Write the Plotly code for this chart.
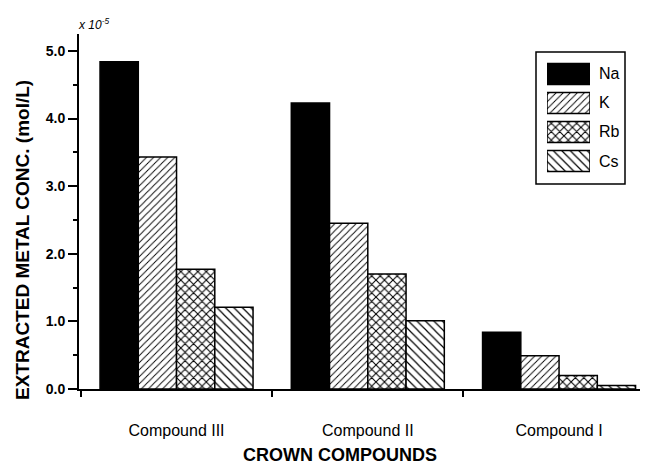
import plotly.graph_objects as go

compounds = ["Compound III", "Compound II", "Compound I"]
metals = ["Na", "K", "Rb", "Cs"]
na = [4.84, 4.23, 0.84]
k = [3.43, 2.45, 0.49]
rb = [1.77, 1.70, 0.20]
cs = [1.21, 1.01, 0.05]
series = [na, k, rb, cs]

patterns = ["", "/", "x", "\\"]
bgcols = ["black", "white", "white", "white"]
psize = [6, 5, 6, 6]
psol = [0.3, 0.18, 0.32, 0.2]

FONT = "Liberation Sans"
fig = go.Figure()

for name, vals, sh, bg, sz, so in zip(metals, series, patterns, bgcols, psize, psol):
    fig.add_trace(go.Bar(
        x=compounds, y=vals, name=name, showlegend=False,
        marker=dict(color=bg, line=dict(color="black", width=1.5),
                    pattern=dict(shape=sh, fgcolor="black", bgcolor=bg,
                                 size=sz, solidity=so, fillmode="replace")),
    ))

# custom legend swatches (large, like the reference)
for name, sh, bg, sz, so in zip(metals, patterns, bgcols, psize, psol):
    fig.add_trace(go.Bar(
        y=[name], x=[1], orientation="h", xaxis="x2", yaxis="y2",
        offsetgroup="legend", width=0.72,
        showlegend=False, hoverinfo="skip",
        marker=dict(color=bg, line=dict(color="black", width=1.5),
                    pattern=dict(shape=sh, fgcolor="black", bgcolor=bg,
                                 size=sz, solidity=so, fillmode="replace")),
    ))

OFF = 8  # page body margin in the browser
W, H = 648 - OFF, 467 - OFF
L, R, T, B = 79 - OFF, 0, 34 - OFF, 467 - 389
pw, ph = W - L - R, H - T - B

def px(xa):
    return (xa - OFF - L) / pw

def py(ya):
    return (H + OFF - B - ya) / ph

fig.update_layout(
    width=W, height=H,
    margin=dict(l=L, r=R, t=T, b=B),
    paper_bgcolor="white", plot_bgcolor="white",
    barmode="group", bargap=0.2, bargroupgap=0,
    font=dict(family=FONT, color="black"),
    xaxis=dict(
        type="category", range=[-0.51, 2.465],
        showline=True, linecolor="black", linewidth=2,
        ticks="outside", tickson="boundaries", ticklen=6, tickwidth=2, tickcolor="black",
        tickfont=dict(size=16, family=FONT), ticklabelstandoff=26,
        showgrid=False, zeroline=False,
    ),
    yaxis=dict(
        range=[0, 5.25], dtick=1, tickformat=".1f",
        showline=True, linecolor="black", linewidth=2,
        ticks="outside", ticklen=9, tickwidth=1.5, tickcolor="black",
        minor=dict(dtick=0.5, ticks="outside", ticklen=4, tickwidth=1.5, tickcolor="black"),
        tickfont=dict(size=14, family=FONT, weight="bold"),
        showgrid=False, zeroline=False,
    ),
    xaxis2=dict(domain=[px(547), px(590)], range=[0, 1], anchor="y2",
                visible=False, fixedrange=True),
    yaxis2=dict(domain=[py(175.5), py(59.5)], range=[3.5, -0.5], anchor="x2",
                visible=False, fixedrange=True, type="category",
                categoryorder="array", categoryarray=metals),
)

# legend box
fig.add_shape(type="rect", xref="paper", yref="paper",
              x0=px(536), x1=px(625), y0=py(184), y1=py(52),
              line=dict(color="black", width=1.5), fillcolor="rgba(0,0,0,0)", layer="below")

ann = []
for i, m in enumerate(metals):
    ann.append(dict(text=m, xref="paper", yref="paper", x=px(597), y=py(74 + 29 * i),
                    xanchor="left", yanchor="middle", showarrow=False,
                    font=dict(size=16, family=FONT)))
ann.append(dict(text="EXTRACTED METAL CONC. (mol/L)", xref="paper", yref="paper",
                x=px(22), y=py(240), textangle=-90, showarrow=False,
                xanchor="center", yanchor="middle",
                font=dict(size=19, family=FONT, weight="bold")))
ann.append(dict(text="<i>x 10<sup>-5</sup></i>", xref="paper", yref="paper",
                x=px(76), y=py(24), xanchor="left", yanchor="middle", showarrow=False,
                font=dict(size=12, family=FONT)))
ann.append(dict(text="CROWN COMPOUNDS", xref="paper", yref="paper",
                x=px(340), y=py(455), xanchor="center", yanchor="middle", showarrow=False,
                font=dict(size=18, family=FONT, weight="bold")))
fig.update_layout(annotations=ann)

fig.write_html("out.html")
